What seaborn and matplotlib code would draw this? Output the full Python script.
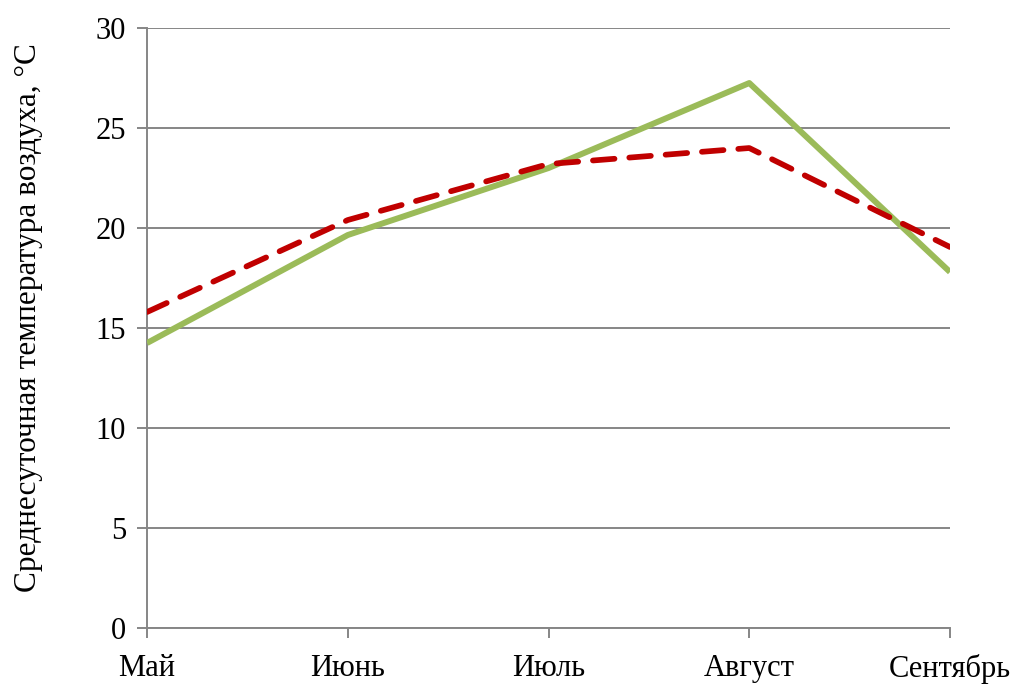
import matplotlib
matplotlib.use("Agg")
import matplotlib.pyplot as plt
import seaborn as sns
import pandas as pd

months = ["Май", "Июнь", "Июль", "Август", "Сентябрь"]
green_vals = [14.25, 19.65, 23.0, 27.25, 17.8]
red_vals = [15.8, 20.4, 23.2, 24.0, 19.05]
yticks = [0, 5, 10, 15, 20, 25, 30]

sns.set_style("white")
plt.rcParams['font.family'] = ['Liberation Serif', 'DejaVu Serif']

fig = plt.figure(figsize=(10.19, 6.84), dpi=100)
ax = fig.add_axes([0.1443, 0.0819, 0.9323 - 0.1443, 0.959 - 0.0819])

df = pd.DataFrame({"x": range(len(months)), "g": green_vals, "r": red_vals})
sns.lineplot(data=df, x="x", y="g", ax=ax, color="#9BBB59", linewidth=4.3,
             solid_capstyle="butt", zorder=3)
sns.lineplot(data=df, x="x", y="r", ax=ax, color="#C00000", linewidth=4.1,
             dashes=False, zorder=4)
ax.lines[1].set_dashes([3.8, 2.6])
ax.lines[1].set_dash_capstyle("round")

ax.set_xlim(0, len(months) - 1)
ax.set_ylim(0, 30)
ax.set_yticks(yticks)
ax.set_xticks(range(len(months)))
ax.set_xticklabels(months)
ax.yaxis.grid(True, color="#868686", linewidth=1.4)
ax.set_axisbelow(True)
for s in ["top", "right"]:
    ax.spines[s].set_visible(False)
for s in ["left", "bottom"]:
    ax.spines[s].set_color("#868686")
    ax.spines[s].set_linewidth(1.4)
ax.tick_params(axis="both", direction="out", length=7, width=1.4, color="#868686",
               labelsize=22, labelcolor="black", bottom=True, left=True)
ax.tick_params(axis="y", pad=8)
ax.tick_params(axis="x", pad=12)
ax.set_xlabel("")
ax.set_ylabel("Среднесуточная температура воздуха, °С", fontsize=22.5, color="black")
ax.yaxis.set_label_coords(-0.148, 0.517)
ax.yaxis.label.set_verticalalignment("center")

fig.savefig("out.png", dpi=100)
